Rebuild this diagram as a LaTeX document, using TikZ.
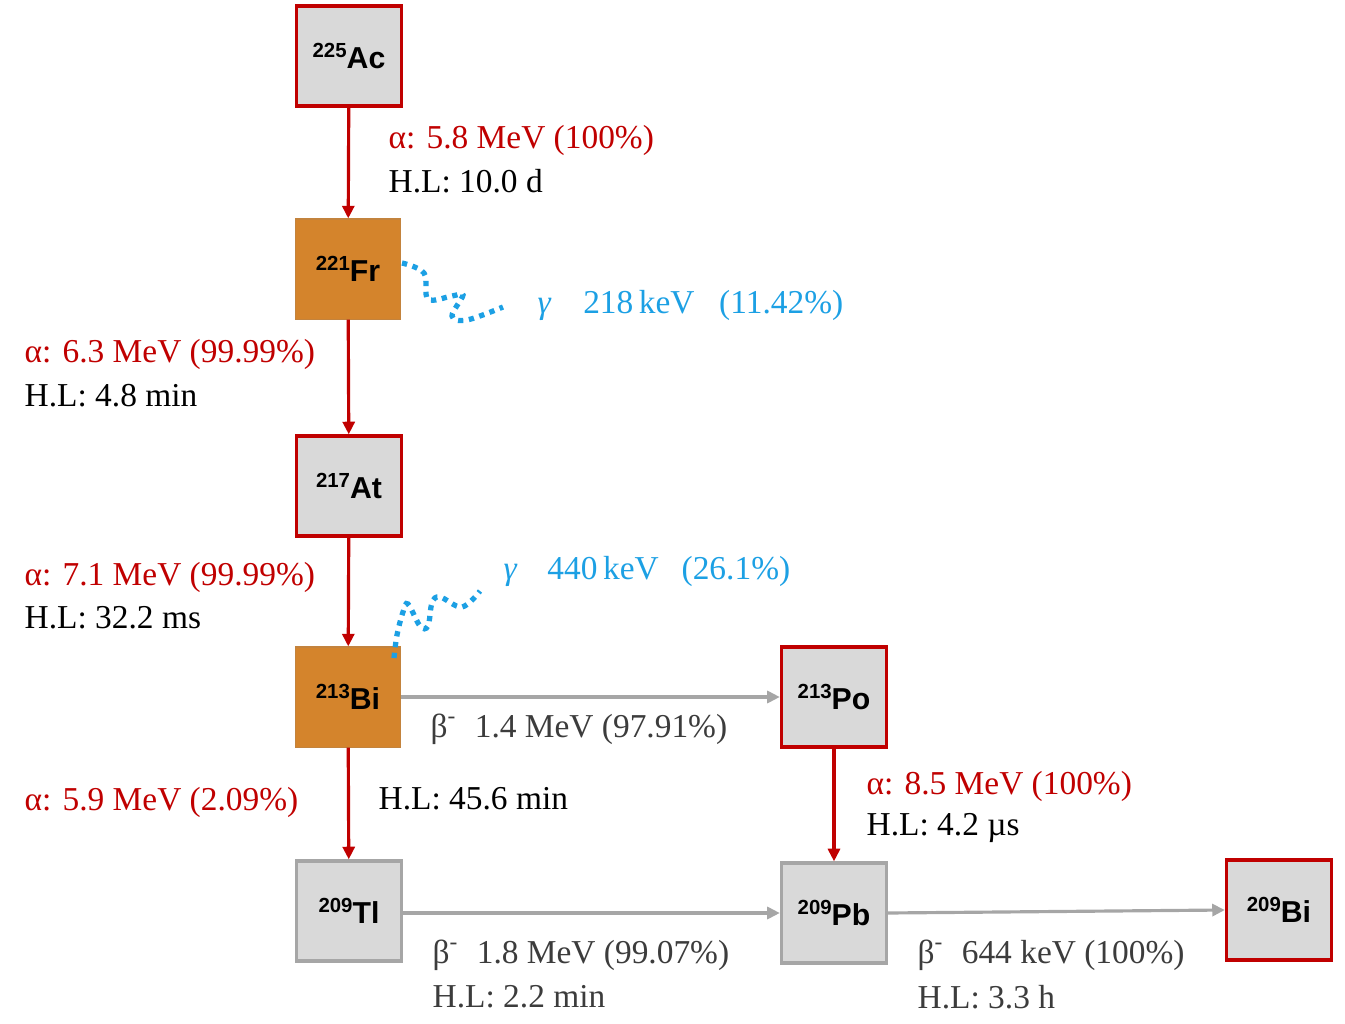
\documentclass[tikz,border=0pt]{standalone}
\usepackage{fontspec}
\setmainfont{Liberation Serif}
\setsansfont{Liberation Sans}
\usetikzlibrary{arrows.meta}
\definecolor{decayred}{RGB}{192,0,0}
\definecolor{boxgray}{RGB}{217,217,217}
\definecolor{edgegray}{RGB}{166,166,166}
\definecolor{nucorange}{RGB}{212,132,44}
\definecolor{gammablue}{RGB}{28,160,228}
\definecolor{textgray}{RGB}{60,60,60}
\newcommand{\nuc}[2]{\raisebox{3.3pt}{\fontsize{5.8}{6}\selectfont #1}#2}
\newcommand{\betam}{β\textsuperscript{-}}

\begin{document}
\begin{tikzpicture}[x=0.01cm,y=-0.01cm,
   nucbox/.style={minimum width=1.05cm,minimum height=1.0cm,inner sep=0pt,
                  font=\sffamily\bfseries\fontsize{8.6}{10}\selectfont},
   alphabox/.style={nucbox,draw=decayred,line width=0.9pt,fill=boxgray},
   betabox/.style={nucbox,draw=edgegray,line width=0.9pt,fill=boxgray},
   gammabox/.style={nucbox,draw=nucorange!80!gray,line width=0.3pt,fill=nucorange},
   alphaarrow/.style={decayred,line width=0.9pt,-{Triangle[length=3.6pt,width=3.4pt]}},
   betaarrow/.style={edgegray,line width=0.9pt,-{Triangle[length=3.6pt,width=3.4pt]}},
   lbl/.style={anchor=west,inner sep=0pt,font=\fontsize{9.5}{11}\selectfont},
   gammawave/.style={gammablue,line width=1.5pt,dash pattern=on 1.5pt off 1.6pt}]
   \useasboundingbox (0,0) rectangle (1345,1024);
   % nuclides
   \node[alphabox] (ac)  at (349,56)   {\nuc{225}{Ac}};
   \node[gammabox] (fr)  at (348,269)  {\nuc{221}{Fr}};
   \node[alphabox] (at)  at (349,486)  {\nuc{217}{At}};
   \node[gammabox] (bi)  at (348,697)  {\nuc{213}{Bi}};
   \node[alphabox] (po)  at (834,697)  {\nuc{213}{Po}};
   \node[betabox]  (tl)  at (349,911)  {\nuc{209}{Tl}};
   \node[betabox]  (pb)  at (834,913)  {\nuc{209}{Pb}};
   \node[alphabox] (bis) at (1279,910) {\nuc{209}{Bi}};
   % decays
   \draw[alphaarrow] (ac) -- (fr);
   \draw[alphaarrow] (fr) -- (at);
   \draw[alphaarrow] (at) -- (bi);
   \draw[alphaarrow] (bi) -- (tl);
   \draw[alphaarrow] (po) -- (pb);
   \draw[betaarrow] (bi) -- (po);
   \draw[betaarrow] (tl.east |- pb.west) -- (pb.west);
   \draw[betaarrow] (pb.east) -- (bis.west);
   % gamma lines
   \draw[gammawave] plot[smooth,tension=0.6] coordinates {(402,263) (424,273)
      (428,299) (452,296) (463,295) (452,316) (467,320) (503,307)};
   \draw[gammawave] plot[smooth,tension=0.6] coordinates {(394,658) (397,635)
      (403,612) (408,604) (420,626) (428,626) (432,603) (440,597) (462,607)
      (480,591)};
   % labels
   \node[lbl,decayred] (l1) at (388,140) {α: 5.8 MeV (100\%)};
   \node[lbl] (h1) at (388,181) {H.L: 10.0 d};
   \node[lbl,decayred] (l2) at (24,354) {α: 6.3 MeV (99.99\%)};
   \node[lbl] (h2) at (24,396) {H.L: 4.8 min};
   \node[lbl,decayred] (l3) at (24,577) {α: 7.1 MeV (99.99\%)};
   \node[lbl] (h3) at (24,618) {H.L: 32.2 ms};
   \node[lbl,decayred] (l4) at (24,802) {α: 5.9 MeV (2.09\%)};
   \node[lbl] (h4) at (378,799) {H.L: 45.6 min};
   \node[lbl,textgray] (b1) at (430,729) {\betam\hspace{5pt}1.4 MeV (97.91\%)};
   \node[lbl,decayred] (l5) at (866,786) {α: 8.5 MeV (100\%)};
   \node[lbl] (h5) at (866,828) {H.L: 4.2 µs};
   \node[lbl,textgray] (b2) at (432,955) {\betam\hspace{5pt}1.8 MeV (99.07\%)};
   \node[lbl,textgray] (h6) at (432,997) {H.L: 2.2 min};
   \node[lbl,textgray] (b3) at (917,955) {\betam\hspace{5pt}644 keV (100\%)};
   \node[lbl,textgray] (h7) at (917,997) {H.L: 3.3 h};
   \node[lbl,gammablue] (g1) at (537,305) {\textit{γ}\hspace{9pt}218\,keV\hspace{7pt}(11.42\%)};
   \node[lbl,gammablue] (g2) at (503,571) {\textit{γ}\hspace{8.5pt}440\,keV\hspace{6.5pt}(26.1\%)};
\end{tikzpicture}
\end{document}
